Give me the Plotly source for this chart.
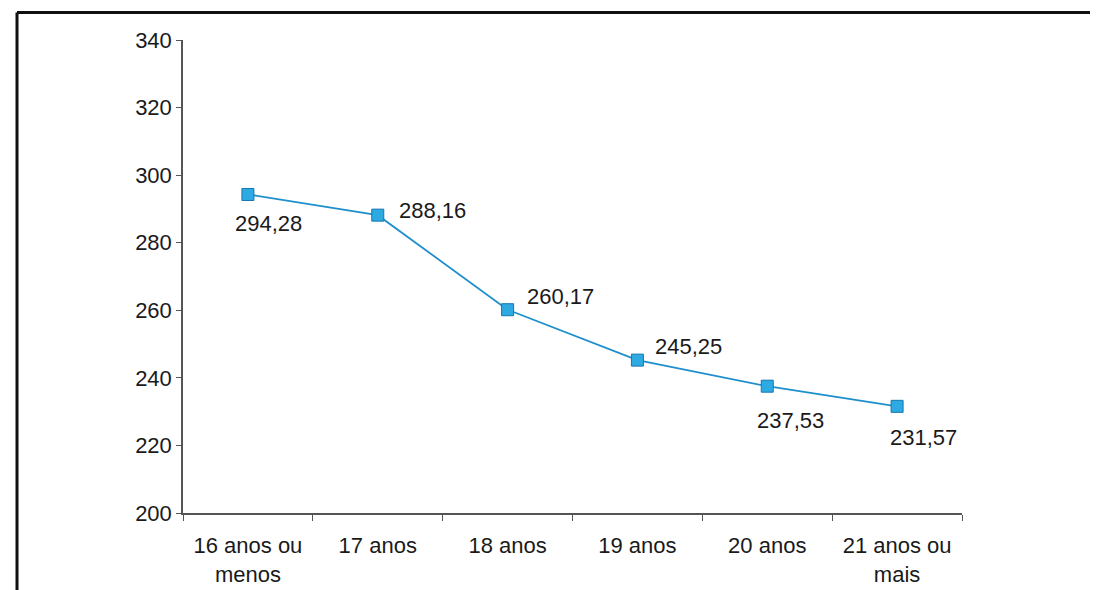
import plotly.graph_objects as go

# faixa etária x média
faixas = ["16 anos ou<br>menos", "17 anos", "18 anos", "19 anos", "20 anos", "21 anos ou<br>mais"]
medias = [294.28, 288.16, 260.17, 245.25, 237.53, 231.57]
y_ticks = [200, 220, 240, 260, 280, 300, 320, 340]

# deslocamento dos rótulos (px) em relação ao marcador
desloc = [(21, -29), (55, 5), (53, 13), (51, 14), (23, -34), (26, -31)]

FONTE = dict(family="Liberation Sans, Arial, sans-serif", size=22, color="#1a1a1a")

fig = go.Figure()
fig.add_trace(go.Scatter(
    x=faixas, y=medias,
    mode="lines+markers",
    line=dict(color="#1f8fcc", width=1.8),
    marker=dict(symbol="square", size=12, color="#2eaae2",
                line=dict(color="#1776b0", width=1)),
    hoverinfo="skip",
))

for cat, v, (dx, dy) in zip(faixas, medias, desloc):
    fig.add_annotation(x=cat, y=v, text=f"{v:.2f}".replace(".", ","),
                       showarrow=False, xshift=dx, yshift=dy, font=FONTE)

# a página tem margem de 8 px no body; compensar
OFF = 8
W, H = 1098, 590
pw, ph = 779, 473
L, T = 183 - OFF, 40 - OFF
R, B = W - L - pw, H - T - ph

def px(x):
    return (x - OFF - L) / pw

def py(y):
    return (T + ph - (y - OFF)) / ph

# moldura (superior e esquerda)
borda = dict(color="#111111", width=3)
fig.add_shape(type="line", xref="paper", yref="paper",
              x0=px(17), x1=px(W + 20), y0=py(12.5), y1=py(12.5), line=borda)
fig.add_shape(type="line", xref="paper", yref="paper",
              x0=px(17), x1=px(17), y0=py(12.5), y1=py(H + 20), line=borda)

fig.update_layout(
    width=W, height=H,
    margin=dict(l=L, r=R, t=T, b=B),
    paper_bgcolor="white", plot_bgcolor="white",
    showlegend=False,
    font=FONTE,
)
fig.update_xaxes(
    type="category", range=[-0.5, 5.5],
    showline=True, linecolor="#555555", linewidth=1.5,
    ticks="outside", tickson="boundaries", ticklen=6, tickcolor="#555555",
    ticklabelstandoff=12,
    showgrid=False, zeroline=False, tickfont=FONTE,
)
fig.update_yaxes(
    range=[200, 340], tickvals=y_ticks,
    showline=True, linecolor="#555555", linewidth=1.5,
    ticks="outside", ticklen=5, tickcolor="#555555",
    showgrid=False, zeroline=False, tickfont=FONTE,
)

fig.write_html("out.html")
